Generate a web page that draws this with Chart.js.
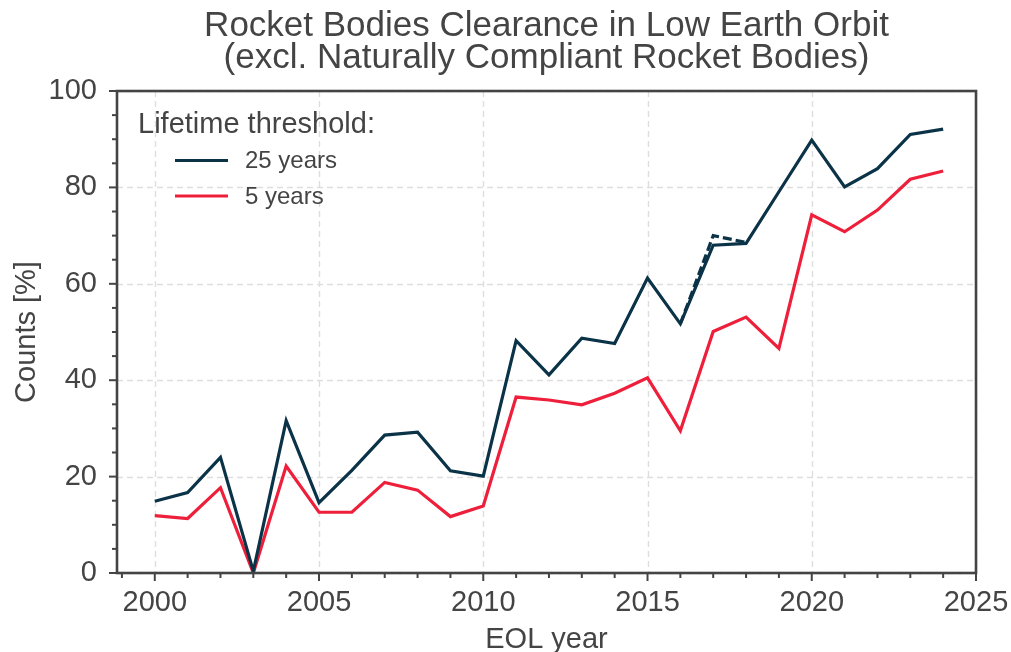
<!DOCTYPE html>
<html>
<head>
<meta charset="utf-8">
<script src="https://cdn.jsdelivr.net/npm/chart.js@4"></script>
<style>
  html, body { margin: 0; padding: 0; background: #fff; }
  canvas { display: block; }
</style>
</head>
<body>
<canvas id="chart" width="1011" height="652"></canvas>
<script>
// EOL years and clearance share (%) per lifetime threshold
const years = [2000, 2001, 2002, 2003, 2004, 2005, 2006, 2007, 2008, 2009, 2010, 2011, 2012,
  2013, 2014, 2015, 2016, 2017, 2018, 2019, 2020, 2021, 2022, 2023, 2024];
const threshold25 = [14.9, 16.7, 24.0, 0.4, 31.6, 14.6, 21.3, 28.6, 29.2, 21.2, 20.1, 48.2, 41.1,
  48.7, 47.6, 61.2, 51.7, 68.0, 68.4, 79.1, 89.8, 80.1, 83.9, 91.0, 92.1];
const threshold5 = [11.9, 11.3, 17.7, 0.0, 22.2, 12.6, 12.6, 18.8, 17.2, 11.7, 13.9, 36.5, 35.9,
  34.9, 37.3, 40.5, 29.5, 50.1, 53.1, 46.6, 74.3, 70.8, 75.3, 81.7, 83.4];
// dashed variant of the 25 years curve
const dashedYears = [2016, 2017, 2018];
const dashed25 = [51.7, 70.0, 68.6];

const xTicks = [2000, 2005, 2010, 2015, 2020, 2025];
const yTicks = [0, 20, 40, 60, 80, 100];
const seriesLabels = ['25 years', '5 years'];
const legendTitle = 'Lifetime threshold:';
const titleLines = ['Rocket Bodies Clearance in Low Earth Orbit', '(excl. Naturally Compliant Rocket Bodies)'];

const navy = '#0b3348';
const red = '#ee1f3b';
const textColor = '#444444';
const fontFamily = '"Liberation Sans", Arial, sans-serif';

function toPoints(xs, ys) {
  return xs.map((x, i) => ({ x: x, y: ys[i] }));
}

const framePlugin = {
  id: 'frame',
  beforeDatasetsDraw(chart) {
    const ctx = chart.ctx;
    const area = chart.chartArea;
    const xs = chart.scales.x;
    const ys = chart.scales.y;
    ctx.save();
    ctx.strokeStyle = '#dedede';
    ctx.lineWidth = 1.4;
    ctx.setLineDash([6, 4]);
    xTicks.forEach(v => {
      const px = Math.round(xs.getPixelForValue(v)) + 0.5;
      ctx.beginPath();
      ctx.moveTo(px, area.top);
      ctx.lineTo(px, area.bottom);
      ctx.stroke();
    });
    yTicks.forEach(v => {
      const py = Math.round(ys.getPixelForValue(v)) + 0.5;
      ctx.beginPath();
      ctx.moveTo(area.left, py);
      ctx.lineTo(area.right, py);
      ctx.stroke();
    });
    ctx.restore();
  },
  afterDatasetsDraw(chart) {
    const ctx = chart.ctx;
    const area = chart.chartArea;
    const xs = chart.scales.x;
    const ys = chart.scales.y;
    ctx.save();
    ctx.strokeStyle = textColor;
    ctx.lineWidth = 2.6;
    ctx.strokeRect(area.left, area.top, area.right - area.left, area.bottom - area.top);

    // tick marks, majors and minors
    ctx.lineWidth = 2;
    for (let yr = 1999; yr <= 2025; yr++) {
      const px = xs.getPixelForValue(yr);
      const len = yr % 5 === 0 ? 8 : 5;
      ctx.beginPath();
      ctx.moveTo(px, area.bottom);
      ctx.lineTo(px, area.bottom + len);
      ctx.stroke();
    }
    for (let v = 0; v <= 100; v += 5) {
      const py = ys.getPixelForValue(v);
      const len = v % 20 === 0 ? 8 : 5;
      ctx.beginPath();
      ctx.moveTo(area.left, py);
      ctx.lineTo(area.left - len, py);
      ctx.stroke();
    }

    // legend
    ctx.fillStyle = textColor;
    ctx.textBaseline = 'alphabetic';
    ctx.textAlign = 'left';
    ctx.font = '29px ' + fontFamily;
    ctx.fillText(legendTitle, 138, 133);
    const colors = [navy, red];
    ctx.font = '24px ' + fontFamily;
    seriesLabels.forEach((label, i) => {
      const y = 160.5 + i * 35.5;
      ctx.strokeStyle = colors[i];
      ctx.lineWidth = 3.2;
      ctx.beginPath();
      ctx.moveTo(175, y);
      ctx.lineTo(228, y);
      ctx.stroke();
      ctx.fillText(label, 245, y + 7.5);
    });
    ctx.restore();
  }
};

const chart = new Chart(document.getElementById('chart'), {
  type: 'line',
  data: {
    datasets: [
      {
        label: seriesLabels[0],
        data: toPoints(years, threshold25),
        borderColor: navy,
        backgroundColor: navy,
        borderWidth: 3.2,
        pointRadius: 0,
        tension: 0
      },
      {
        label: seriesLabels[1],
        data: toPoints(years, threshold5),
        borderColor: red,
        backgroundColor: red,
        borderWidth: 3.2,
        pointRadius: 0,
        tension: 0
      },
      {
        label: 'dashed',
        data: toPoints(dashedYears, dashed25),
        borderColor: navy,
        borderWidth: 3.2,
        borderDash: [9, 4],
        pointRadius: 0,
        tension: 0
      }
    ]
  },
  options: {
    responsive: false,
    animation: false,
    devicePixelRatio: 1,
    layout: { padding: { left: 0, right: 35, top: 0, bottom: 0 } },
    plugins: {
      legend: { display: false },
      tooltip: { enabled: false },
      title: {
        display: true,
        fullSize: false,
        text: titleLines,
        color: textColor,
        font: { family: fontFamily, size: 35, weight: 'normal', lineHeight: 0.906 },
        padding: { top: 10.9, bottom: 16.7 }
      }
    },
    scales: {
      x: {
        type: 'linear',
        min: 1998.85,
        max: 2025,
        afterBuildTicks(scale) {
          scale.ticks = xTicks.map(v => ({ value: v }));
        },
        afterFit(scale) {
          scale.height = 79;
          scale.paddingLeft = 0;
          scale.paddingRight = 0;
        },
        grid: { display: false, drawTicks: false },
        border: { display: false },
        ticks: {
          color: textColor,
          padding: 13,
          maxRotation: 0,
          font: { family: fontFamily, size: 29 },
          callback: v => String(v)
        },
        title: {
          display: true,
          text: 'EOL year',
          color: textColor,
          font: { family: fontFamily, size: 29, lineHeight: 0.85 },
          padding: { top: 0, bottom: 0 }
        }
      },
      y: {
        min: 0,
        max: 100,
        afterBuildTicks(scale) {
          scale.ticks = yTicks.map(v => ({ value: v }));
        },
        afterFit(scale) {
          scale.width = 117;
        },
        grid: { display: false, drawTicks: false },
        border: { display: false },
        ticks: {
          color: textColor,
          padding: 20,
          font: { family: fontFamily, size: 29 }
        },
        title: {
          display: true,
          text: 'Counts [%]',
          color: textColor,
          font: { family: fontFamily, size: 29, lineHeight: 1.2 },
          padding: { top: 9.5, bottom: 0 }
        }
      }
    }
  },
  plugins: [framePlugin]
});
</script>
</body>
</html>
